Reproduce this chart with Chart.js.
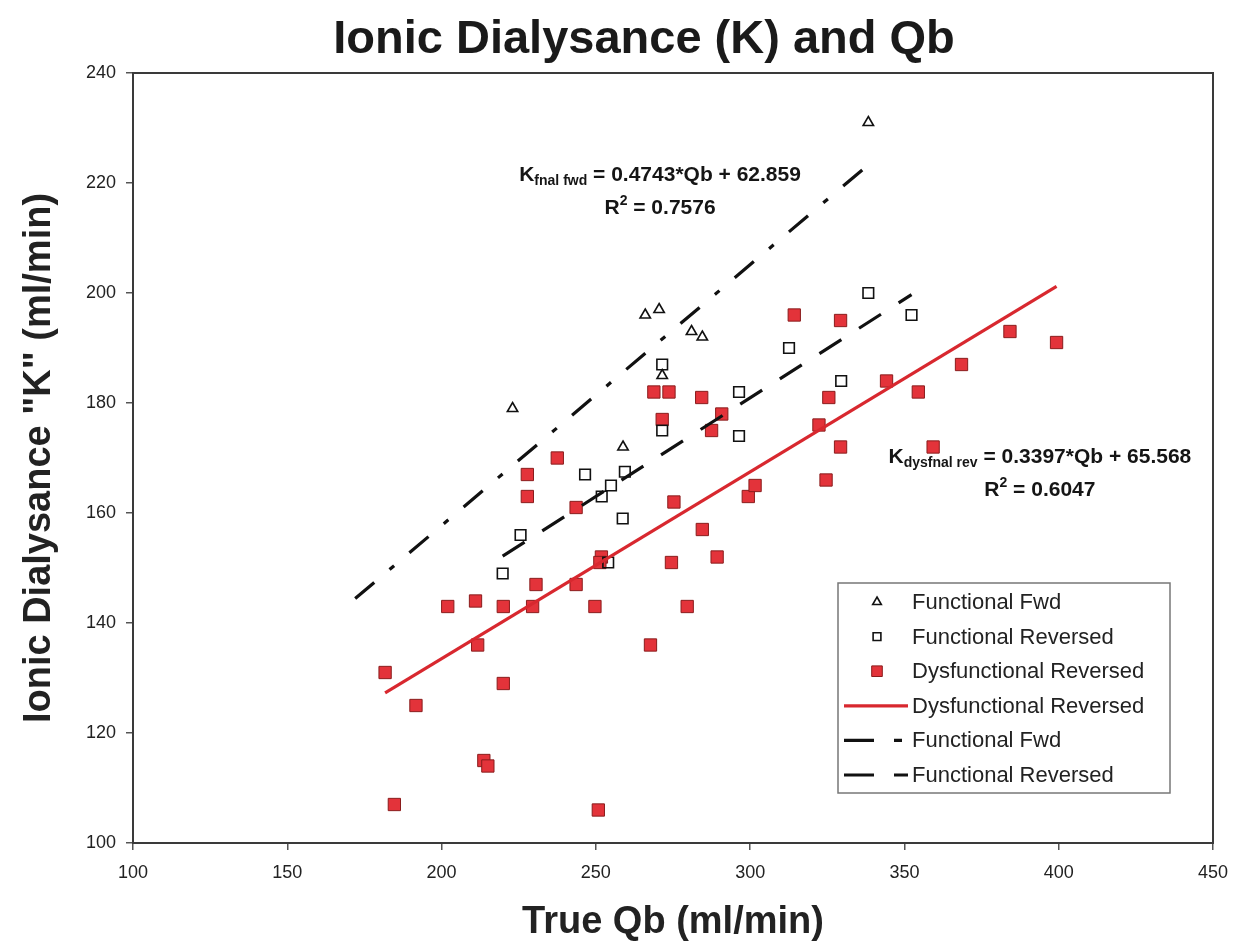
<!DOCTYPE html>
<html>
<head>
<meta charset="utf-8">
<title>Ionic Dialysance (K) and Qb</title>
<script src="https://cdn.jsdelivr.net/npm/chart.js@4.4.1/dist/chart.umd.min.js"></script>
<style>
  html, body { margin: 0; padding: 0; background: #ffffff; }
  #wrap { width: 1236px; height: 945px; }
</style>
</head>
<body>
<div id="wrap"><canvas id="chartCanvas" width="1236" height="945"></canvas></div>
<script>
var fwdQb = [223, 266, 270.5, 281, 284.5, 271.5, 338.3, 258.8];
var fwdK  = [179, 196, 197, 193, 192, 185, 231, 172];

var revQb = [271.5, 271.5, 296.4, 296.4, 312.6, 338.3, 352.3, 329.5, 246.5, 259.4, 254.9, 251.9, 258.7, 225.6, 219.8, 254];
var revK  = [187, 175, 182, 174, 190, 200, 196, 184, 167, 167.5, 165, 163, 159, 156, 149, 151];

var dysQb = [181.7, 184.7, 191.7, 202, 211, 211.7, 213.7, 215, 220, 220,
             227.8, 227.8, 229.5, 230.6, 237.5, 243.6, 243.6, 249.7, 250.8, 251.8,
             251.3, 267.7, 268.8, 273.7, 271.5, 274.5, 275.3, 279.6, 284.3, 284.5,
             287.5, 289.3, 290.8, 299.4, 301.6, 314.3, 322.3, 324.6, 325.5, 329.3,
             329.3, 344.2, 354.5, 359.3, 368.5, 384.2, 399.3];
var dysK  = [131, 107, 125, 143, 144, 136, 115, 114, 143, 129,
             167, 163, 143, 147, 170, 161, 147, 143, 106, 152,
             151, 136, 182, 182, 177, 151, 162, 143, 181, 157,
             175, 152, 178, 163, 165, 196, 176, 166, 181, 195,
             172, 184, 182, 172, 187, 193, 191];

// regression lines: [slope, intercept] and the Qb span they cover
var fwdFit = [0.4743, 62.859];
var fwdFitSpan = [172, 338.3];
var dysFit = [0.3397, 65.568];
var dysFitSpan = [181.7, 399.3];
var revFitSpan = [219.8, 352.3];

var xTicks = [100, 150, 200, 250, 300, 350, 400, 450];
var yTicks = [100, 120, 140, 160, 180, 200, 220, 240];

var FONT = "'Liberation Sans', Arial, sans-serif";

function toPoints(xs, ys) {
  return xs.map(function (x, i) { return { x: x, y: ys[i] }; });
}

// ordinary least squares, used for the reversed-functional line
function leastSquares(xs, ys) {
  var n = xs.length, mx = 0, my = 0, sxy = 0, sxx = 0;
  for (var i = 0; i < n; i++) { mx += xs[i]; my += ys[i]; }
  mx /= n; my /= n;
  for (var j = 0; j < n; j++) {
    sxy += (xs[j] - mx) * (ys[j] - my);
    sxx += (xs[j] - mx) * (xs[j] - mx);
  }
  var slope = sxy / sxx;
  return [slope, my - slope * mx];
}

function fitLine(fit, span) {
  return span.map(function (x) { return { x: x, y: fit[0] * x + fit[1] }; });
}

var revFit = leastSquares(revQb, revK);

var RED = '#e3333a';

var datasets = [
  {
    label: 'Functional Fwd', data: toPoints(fwdQb, fwdK), order: 2,
    pointStyle: 'triangle', pointRadius: 6, backgroundColor: 'rgba(0,0,0,0)',
    borderColor: '#111', pointBorderWidth: 1.6, showLine: false
  },
  {
    label: 'Functional Reversed', data: toPoints(revQb, revK), order: 2,
    pointStyle: 'rect', pointRadius: 7.5, backgroundColor: 'rgba(0,0,0,0)',
    borderColor: '#111', pointBorderWidth: 1.6, showLine: false
  },
  {
    label: 'Dysfunctional Reversed', data: toPoints(dysQb, dysK), order: 2,
    pointStyle: 'rect', pointRadius: 8.7, backgroundColor: RED,
    borderColor: '#8a1c1c', pointBorderWidth: 1, showLine: false
  },
  {
    label: 'Dysfunctional Reversed', data: fitLine(dysFit, dysFitSpan), order: 1,
    showLine: true, borderColor: '#d8282f', borderWidth: 3.2, pointRadius: 0
  },
  {
    label: 'Functional Fwd', data: fitLine(fwdFit, fwdFitSpan), order: 1,
    showLine: true, borderColor: '#111', borderWidth: 3.2, pointRadius: 0,
    borderDash: [25, 20, 6, 20]
  },
  {
    label: 'Functional Reversed', data: fitLine(revFit, revFitSpan), order: 1,
    showLine: true, borderColor: '#111', borderWidth: 3.2, pointRadius: 0,
    borderDash: [26, 21]
  }
];

// title, plot frame, equations and the boxed legend
var decorations = {
  id: 'decorations',
  beforeDatasetsDraw: function (chart) {
    var ctx = chart.ctx, a = chart.chartArea;
    ctx.save();
    ctx.strokeStyle = '#3a3a3a';
    ctx.lineWidth = 2;
    ctx.strokeRect(a.left, a.top, a.right - a.left, a.bottom - a.top);
    ctx.restore();
  },
  afterDraw: function (chart) {
    var ctx = chart.ctx;
    var sx = chart.scales.x, sy = chart.scales.y;
    ctx.save();

    ctx.fillStyle = '#1a1a1a';
    ctx.textAlign = 'center';
    ctx.textBaseline = 'middle';
    ctx.font = 'bold 47px ' + FONT;
    ctx.fillText('Ionic Dialysance (K) and Qb', 644, 40);

    drawSubLine(ctx, sx.getPixelForValue(270.8), sy.getPixelForValue(221.4), 'K', 'fnal fwd', ' = 0.4743*Qb + 62.859', 6);
    drawSubLine(ctx, sx.getPixelForValue(270.8), sy.getPixelForValue(215.4), 'R', '2', ' = 0.7576', -7);
    drawSubLine(ctx, sx.getPixelForValue(393.9), sy.getPixelForValue(170.2), 'K', 'dysfnal rev', ' = 0.3397*Qb + 65.568', 6);
    drawSubLine(ctx, sx.getPixelForValue(393.9), sy.getPixelForValue(164.2), 'R', '2', ' = 0.6047', -7);

    // legend box
    var bx = 838, by = 583, bw = 332, bh = 210;
    ctx.fillStyle = '#fff';
    ctx.fillRect(bx, by, bw, bh);
    ctx.strokeStyle = '#777';
    ctx.lineWidth = 1.5;
    ctx.strokeRect(bx, by, bw, bh);

    var rowY = by + 19, step = 34.6;
    var legendRadius = [5, 5.5, 7.5];
    chart.data.datasets.forEach(function (ds, i) {
      var y = rowY + i * step;
      if (ds.showLine) {
        ctx.save();
        ctx.strokeStyle = ds.borderColor;
        ctx.lineWidth = ds.borderWidth;
        if (ds.borderDash) ctx.setLineDash(i === 4 ? [30, 20, 8, 20] : [30, 20, 18, 20]);
        ctx.beginPath();
        ctx.moveTo(bx + 6, y);
        ctx.lineTo(bx + 70, y);
        ctx.stroke();
        ctx.restore();
      } else {
        ctx.save();
        ctx.fillStyle = ds.backgroundColor;
        ctx.strokeStyle = ds.borderColor;
        ctx.lineWidth = ds.pointBorderWidth;
        Chart.helpers.drawPoint(ctx, {
          pointStyle: ds.pointStyle, radius: legendRadius[i], rotation: 0,
          borderWidth: ds.pointBorderWidth
        }, bx + 39, y);
        ctx.restore();
      }
      ctx.fillStyle = '#222';
      ctx.textAlign = 'left';
      ctx.textBaseline = 'middle';
      ctx.font = '22px ' + FONT;
      ctx.fillText(ds.label, bx + 74, y + 1);
    });

    ctx.restore();
  }
};

// a bold line of text with a smaller sub- or superscript after the first glyph
function drawSubLine(ctx, cx, cy, head, small, tail, shift) {
  var big = 'bold 21px ' + FONT, little = 'bold 14px ' + FONT;
  ctx.font = big;
  var w1 = ctx.measureText(head).width, w3 = ctx.measureText(tail).width;
  ctx.font = little;
  var w2 = ctx.measureText(small).width;
  var x = cx - (w1 + w2 + w3) / 2;
  ctx.fillStyle = '#151515';
  ctx.textAlign = 'left';
  ctx.textBaseline = 'middle';
  ctx.font = big;
  ctx.fillText(head, x, cy);
  ctx.font = little;
  ctx.fillText(small, x + w1, cy + shift);
  ctx.font = big;
  ctx.fillText(tail, x + w1 + w2, cy);
}

var ctx = document.getElementById('chartCanvas');
var chart = new Chart(ctx, {
  type: 'scatter',
  data: { datasets: datasets },
  plugins: [decorations],
  options: {
    responsive: false,
    animation: false,
    layout: { padding: { top: 73, right: 23, left: 0, bottom: 0 } },
    plugins: {
      legend: { display: false },
      tooltip: { enabled: false }
    },
    scales: {
      x: {
        type: 'linear', min: 100, max: 450,
        afterBuildTicks: function (scale) {
          scale.ticks = xTicks.map(function (v) { return { value: v }; });
        },
        afterFit: function (scale) {
          scale.height = 102;
          scale.paddingLeft = 0;
          scale.paddingRight = 0;
        },
        ticks: { color: '#222', font: { family: FONT, size: 18 }, padding: 12 },
        grid: { drawOnChartArea: false, drawTicks: true, tickLength: 7, color: '#555', lineWidth: 1.5 },
        border: { display: false },
        title: {
          display: true, text: 'True Qb (ml/min)', color: '#222',
          font: { family: FONT, size: 38, weight: 'bold', lineHeight: 1 },
          padding: { top: 0, bottom: 3 }
        }
      },
      y: {
        type: 'linear', min: 100, max: 240,
        afterBuildTicks: function (scale) {
          scale.ticks = yTicks.map(function (v) { return { value: v }; });
        },
        afterFit: function (scale) { scale.width = 133; },
        ticks: { color: '#222', font: { family: FONT, size: 18 }, padding: 10 },
        grid: { drawOnChartArea: false, drawTicks: true, tickLength: 7, color: '#555', lineWidth: 1.5 },
        border: { display: false },
        title: {
          display: true, text: 'Ionic Dialysance "K" (ml/min)', color: '#222',
          font: { family: FONT, size: 38, weight: 'bold', lineHeight: 1 },
          padding: { top: 21, bottom: 0 }
        }
      }
    }
  }
});
</script>
</body>
</html>
